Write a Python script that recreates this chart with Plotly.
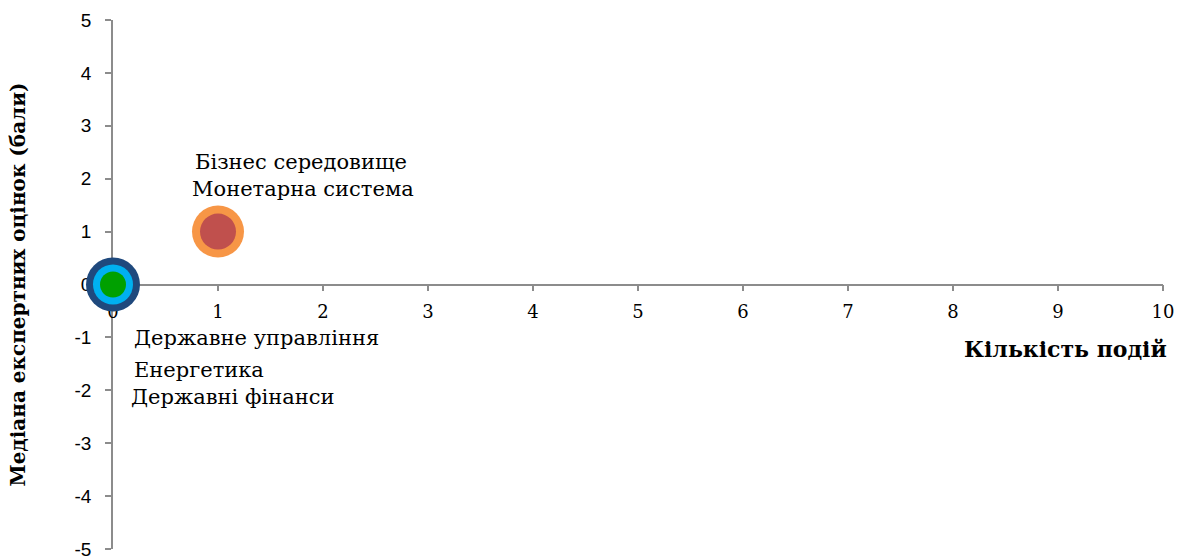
import plotly.graph_objects as go

# Data
names = ["Державне управління", "Енергетика", "Державні фінанси", "Бізнес середовище", "Монетарна система"]
events = [0, 0, 0, 1, 1]
medians = [0, 0, 0, 1, 1]
bubble_sizes = [54, 40, 26, 52, 36]
colors = ["#1F497D", "#00B0F0", "#00A000", "#F79646", "#C0504D"]

x_ticks = list(range(0, 11))
y_ticks = list(range(-5, 6))

fig = go.Figure()
for n, xv, yv, s, c in zip(names, events, medians, bubble_sizes, colors):
    fig.add_trace(go.Scatter(
        x=[xv], y=[yv], mode="markers", name=n,
        marker=dict(size=s, sizemode="diameter", color=c, line=dict(width=0), opacity=1),
        cliponaxis=False, showlegend=False,
    ))

serif = "DejaVu Serif"
label_font = dict(family=serif, size=21, color="#000000")

# Data labels
fig.add_annotation(x=1, y=1, xref="x", yref="y", text="Бізнес середовище", showarrow=False,
                   xanchor="center", yanchor="middle", xshift=83, yshift=70, font=label_font)
fig.add_annotation(x=1, y=1, xref="x", yref="y", text="Монетарна система", showarrow=False,
                   xanchor="center", yanchor="middle", xshift=85, yshift=43, font=label_font)
fig.add_annotation(x=0, y=0, xref="x", yref="y", text="Державне управління", showarrow=False,
                   xanchor="left", yanchor="middle", xshift=19, yshift=-53, font=label_font)
fig.add_annotation(x=0, y=0, xref="x", yref="y", text="Енергетика", showarrow=False,
                   xanchor="left", yanchor="middle", xshift=19, yshift=-85, font=label_font)
fig.add_annotation(x=0, y=0, xref="x", yref="y", text="Державні фінанси", showarrow=False,
                   xanchor="left", yanchor="middle", xshift=16, yshift=-112, font=label_font)

# X axis title (right side)
fig.add_annotation(x=1.0, y=0.5, xref="paper", yref="paper", text="<b>Кількість подій</b>",
                   showarrow=False, xanchor="right", yanchor="middle", xshift=6, yshift=-64,
                   font=dict(family=serif, size=22, color="#000000"))

fig.update_layout(
    width=1182, height=556,
    margin=dict(l=113, r=19, t=20, b=7),
    paper_bgcolor="white", plot_bgcolor="white",
    xaxis=dict(
        range=[0, 10], tickvals=x_ticks, ticktext=[str(v) for v in x_ticks],
        anchor="free", position=0.5, layer="below traces", automargin=False,
        showline=True, linecolor="#8C8C8C", linewidth=1.5,
        ticks="outside", ticklen=6, tickcolor="#8C8C8C", tickwidth=1.5,
        showgrid=False, zeroline=False,
        tickfont=dict(family=serif, size=18, color="#000000"),
        ticklabelstandoff=5, ticklabeloverflow="allow",
    ),
    yaxis=dict(
        range=[-5, 5], tickvals=y_ticks, ticktext=[str(v) for v in y_ticks],
        layer="below traces", automargin=False,
        showline=True, linecolor="#8C8C8C", linewidth=1.5,
        ticks="outside", ticklen=6, tickcolor="#8C8C8C", tickwidth=1.5,
        showgrid=False, zeroline=False,
        tickfont=dict(family="Liberation Sans", size=19, color="#000000"),
        ticklabelstandoff=10, ticklabeloverflow="allow",
        title=dict(text="<b>Медіана експертних оцінок (бали)</b>", standoff=44,
                   font=dict(family=serif, size=20, color="#000000")),
    ),
)

fig.write_html("out.html", config={"displayModeBar": False},
               post_script="document.body.style.margin='0';")
